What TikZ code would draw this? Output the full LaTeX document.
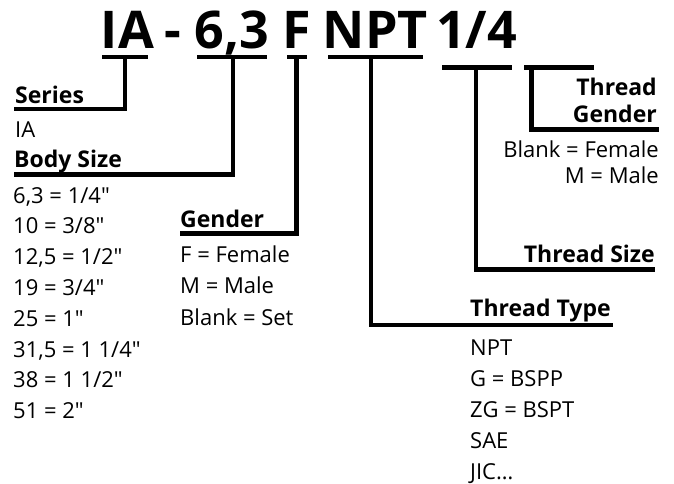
\documentclass[tikz,border=0pt]{standalone}
\usepackage{fontspec}
\setmainfont{Open Sans}
\usetikzlibrary{positioning}

\tikzset{
  codepart/.style={font=\bfseries\fontsize{52}{52}\selectfont, inner sep=0pt, anchor=base},
  fieldhead/.style={font=\bfseries\fontsize{23}{23}\selectfont, inner sep=0pt, anchor=base west},
  fieldheadr/.style={fieldhead, anchor=base east},
  fieldval/.style={font=\fontsize{22}{22}\selectfont, inner sep=0pt, anchor=base west},
  fieldvalr/.style={fieldval, anchor=base east},
  leader/.style={line width=4.5pt},
}

\begin{document}
\begin{tikzpicture}[x=1pt, y=-1pt]
  \useasboundingbox (0,0) rectangle (674,483);

  % Part code across the top
  \node[codepart] (ia)     at (127.5,48) {IA};
  \node[codepart] (dash)   at (173,48)   {-};
  \node[codepart] (size)   at (232,48)   {6,3};
  \node[codepart] (gend)   at (297,48)   {F};
  \node[codepart] (type)   at (375.5,48) {NPT};
  \node[codepart] (thsize) at (476.5,48) {1/4};

  % Bars under the code, with the points where the leaders leave them
  \draw[leader] (102,57) -- (148,57);
  \draw[leader] (197,57) -- (267,57);
  \draw[leader] (287,57) -- (307,57);
  \draw[leader] (328,57) -- (423,57);
  \draw[leader] (442,67.5) -- (512,67.5);
  \draw[leader] (524,67.5) -- (594,67.5);
  \coordinate (iabar)     at (125,57);
  \coordinate (sizebar)   at (233,57);
  \coordinate (gendbar)   at (296.5,57);
  \coordinate (typebar)   at (371,57);
  \coordinate (thsizebar) at (476,67.5);
  \coordinate (thgendbar) at (531.5,67.5);

  % Field headings
  \node[fieldhead]  (series)   at (15,103)  {Series};
  \node[fieldhead]  (bodysize) at (14,167)  {Body Size};
  \node[fieldhead]  (gender)   at (180,227) {Gender};
  \node[fieldhead]  (thtype)   at (470,316) {Thread Type};
  \node[fieldheadr] (thsz)     at (655,262) {Thread Size};
  \node[fieldheadr] (thgen1)   at (657,95)  {Thread};
  \node[fieldheadr] (thgen2)   at (657,122) {Gender};

  % Ends of the leaders, under the headings
  \coordinate (seriesend) at (14,109);
  \coordinate (bodyend)   at (14,174.5);
  \coordinate (gendend)   at (180,233.5);
  \coordinate (typeend)   at (613,325);
  \coordinate (thszend)   at (655,269.5);
  \coordinate (thgenend)  at (659,129.5);

  % Leaders from code to headings
  \draw[leader] (iabar) |- (seriesend);
  \draw[leader] (sizebar) |- (bodyend);
  \draw[leader] (gendbar) |- (gendend);
  \draw[leader] (typebar) |- (typeend);
  \draw[leader] (thsizebar) |- (thszend);
  \draw[leader] (thgendbar) |- (thgenend);

  % Values
  \node[fieldval] (iaval) at (15,137) {IA};
  \foreach \val [count=\i from 0] in {{6,3 = 1/4″}, {10 = 3/8″}, {12,5 = 1/2″}, {19 = 3/4″},
      {25 = 1″}, {31,5 = 1 1/4″}, {38 = 1 1/2″}, {51 = 2″}}
    \node[fieldval] (body\i) at (13,{203+30.8*\i}) {\val};
  \foreach \val [count=\i from 0] in {F = Female, M = Male, Blank = Set}
    \node[fieldval] (gen\i) at (180,{262+31.5*\i}) {\val};
  \foreach \val [count=\i from 0] in {NPT, G = BSPP, ZG = BSPT, SAE, JIC…}
    \node[fieldval] (typ\i) at (470,{355+31*\i}) {\val};
  \node[fieldvalr] (thg0) at (659,157) {Blank = Female};
  \node[fieldvalr] (thg1) at (659,183) {M = Male};

\end{tikzpicture}
\end{document}
